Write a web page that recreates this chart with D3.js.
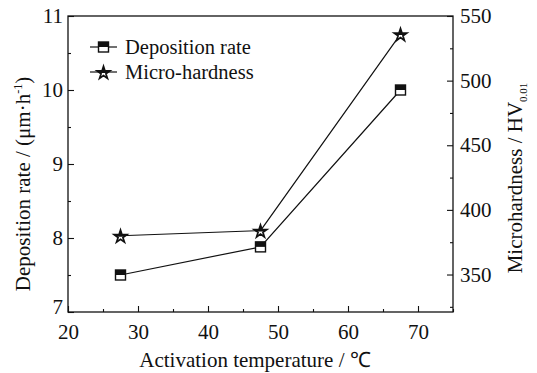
<!DOCTYPE html>
<html><head><meta charset="utf-8">
<script src="https://cdn.jsdelivr.net/npm/d3@7"></script>
<style>body{margin:0;background:#fff}svg{display:block}</style>
</head><body><svg id="c" width="537" height="373" font-family="Liberation Serif, Times New Roman, serif"></svg>
<script>
const temperatures = [27.5, 47.5, 67.5];
const depositionRate = [7.5, 7.88, 10.0];
const microHardness = [380, 384, 536];
const xTicks = [20, 30, 40, 50, 60, 70];
const yLeftTicks = [7, 8, 9, 10, 11];
const yRightTicks = [350, 400, 450, 500, 550];
const seriesNames = ["Deposition rate", "Micro-hardness"];

const FONT = "Liberation Serif, Times New Roman, serif";
const svg = d3.select("#c");
const L = 68, R = 453, T = 16, B = 312;
const x = d3.scaleLinear().domain([20, 75]).range([L, R]);
const yL = d3.scaleLinear().domain([7, 11]).range([B, T]);
const yR = d3.scaleLinear().domain([321, 550]).range([B, T]);

svg.append("rect").attr("x", L).attr("y", T).attr("width", R - L).attr("height", B - T)
  .attr("fill", "none").attr("stroke", "#111").attr("stroke-width", 1.3);

function styleAxis(g) {
  g.attr("font-family", FONT);
  g.select(".domain").remove();
  g.selectAll("line").attr("stroke", "#111").attr("stroke-width", 1.1);
  g.selectAll("text").attr("font-family", FONT).style("font-size", "21px").attr("fill", "#111");
}
svg.append("g").attr("transform", `translate(0,${B})`)
  .call(d3.axisBottom(x).tickValues(xTicks).tickSize(-6).tickPadding(12).tickFormat(d3.format("d")))
  .call(styleAxis);
svg.append("g").attr("transform", `translate(0,${B})`)
  .call(d3.axisBottom(x).tickValues(d3.range(25, 76, 10)).tickSize(-3).tickFormat(""))
  .call(styleAxis);
const gl = svg.append("g").attr("transform", `translate(${L},0)`)
  .call(d3.axisLeft(yL).tickValues(yLeftTicks).tickSize(-6).tickPadding(5).tickFormat(d3.format("d")))
  .call(styleAxis);
gl.selectAll(".tick").filter(d => d === 7).select("text").attr("y", -5);
svg.append("g").attr("transform", `translate(${L},0)`)
  .call(d3.axisLeft(yL).tickValues([7.5, 8.5, 9.5, 10.5]).tickSize(-3).tickFormat(""))
  .call(styleAxis);
svg.append("g").attr("transform", `translate(${R},0)`)
  .call(d3.axisRight(yR).tickValues(yRightTicks).tickSize(-6).tickPadding(7).tickFormat(d3.format("d")))
  .call(styleAxis);
svg.append("g").attr("transform", `translate(${R},0)`)
  .call(d3.axisRight(yR).tickValues([325, 375, 425, 475, 525]).tickSize(-3).tickFormat(""))
  .call(styleAxis);

svg.append("text").attr("x", 255).attr("y", 367).attr("text-anchor", "middle")
  .attr("font-family", FONT).style("font-size", "21px").attr("fill", "#111").text("Activation temperature / ℃");
const lt = svg.append("text").attr("transform", `translate(30,184) rotate(-90)`)
  .attr("text-anchor", "middle").attr("font-family", FONT).attr("fill", "#111").style("font-size", "21px");
lt.append("tspan").text("Deposition rate / (μm·h");
lt.append("tspan").attr("dy", -8).style("font-size", "12px").text("-1");
lt.append("tspan").attr("dy", 8).text(")");
const rt = svg.append("text").attr("transform", `translate(522,178) rotate(-90)`)
  .attr("text-anchor", "middle").attr("font-family", FONT).attr("fill", "#111").style("font-size", "21px");
rt.append("tspan").text("Microhardness / HV");
rt.append("tspan").attr("dy", 5).style("font-size", "11px").text("0.01");

function squareMarker(g, cx, cy) {
  const s = 10;
  g.append("rect").attr("x", cx - s / 2).attr("y", cy - s / 2).attr("width", s).attr("height", s)
    .attr("fill", "#fff").attr("stroke", "#111").attr("stroke-width", 1.4);
  g.append("rect").attr("x", cx - s / 2).attr("y", cy - s / 2).attr("width", s).attr("height", s / 2)
    .attr("fill", "#111");
}
const starPath = d3.symbol().type(d3.symbolStar).size(50)();
const defs = svg.append("defs");
defs.append("clipPath").attr("id", "topHalf").append("rect")
  .attr("x", -10).attr("y", -10).attr("width", 20).attr("height", 10);
function starMarker(g, cx, cy) {
  g.append("path").attr("d", starPath).attr("transform", `translate(${cx},${cy + 1})`)
    .attr("fill", "#fff").attr("stroke", "#111").attr("stroke-width", 1.7).attr("stroke-linejoin", "miter");
  g.append("path").attr("d", starPath).attr("transform", `translate(${cx},${cy + 1})`)
    .attr("fill", "#111").attr("clip-path", "url(#topHalf)");
}

const line = d3.line();
const depPts = temperatures.map((t, i) => [x(t), yL(depositionRate[i])]);
const hardPts = temperatures.map((t, i) => [x(t), yR(microHardness[i])]);
svg.append("path").attr("d", line(depPts)).attr("fill", "none").attr("stroke", "#111").attr("stroke-width", 1.2);
svg.append("path").attr("d", line(hardPts)).attr("fill", "none").attr("stroke", "#111").attr("stroke-width", 1.2);
const gm = svg.append("g");
depPts.forEach(p => squareMarker(gm, p[0], p[1]));
hardPts.forEach(p => starMarker(gm, p[0], p[1]));

const lg = svg.append("g");
[47, 72].forEach((yy, i) => {
  lg.append("line").attr("x1", 90).attr("x2", 117).attr("y1", yy).attr("y2", yy)
    .attr("stroke", "#111").attr("stroke-width", 1.2);
  if (i === 0) squareMarker(lg, 103.5, yy); else starMarker(lg, 103.5, yy);
  lg.append("text").attr("x", 125).attr("y", yy + 7).attr("font-family", FONT).attr("fill", "#111")
    .style("font-size", "20.5px").text(seriesNames[i]);
});
</script></body></html>
